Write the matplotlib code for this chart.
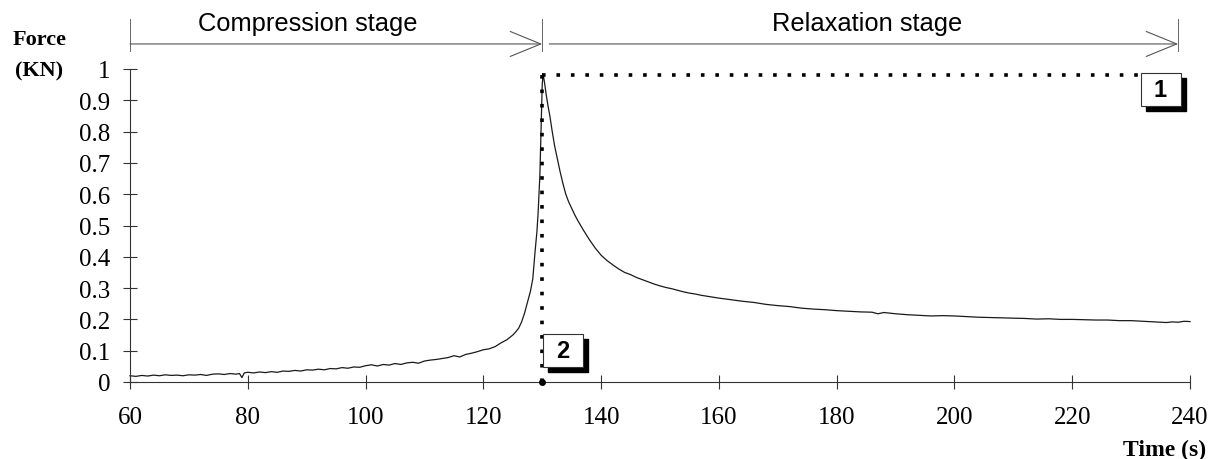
import matplotlib.pyplot as plt
from matplotlib.patches import Rectangle

# force record of the sample (time in s, force in kN)
t_compression = [60, 61, 62, 63, 64, 65, 66, 67, 68, 69, 70, 71, 72, 73, 74, 75, 76, 77, 78,
                 78.6, 79, 79.4, 80, 81, 82, 83, 84, 85, 86, 87, 88, 89, 90, 91, 92, 93, 94,
                 95, 96, 97, 98, 99, 100, 101, 102, 103, 104, 105, 106, 107, 108, 109, 110,
                 111, 112, 113, 114, 115, 116, 117, 118, 119, 120, 121, 122, 123, 124, 125,
                 125.5, 126, 126.5, 127, 127.5, 128, 128.4, 128.8, 129.1, 129.3, 129.6, 129.8,
                 130.0, 130.15]
f_compression = [0.020, 0.018, 0.021, 0.019, 0.022, 0.020, 0.023, 0.021, 0.022, 0.020, 0.023,
                 0.022, 0.024, 0.021, 0.025, 0.026, 0.024, 0.027, 0.025, 0.027, 0.014, 0.029,
                 0.031, 0.029, 0.032, 0.030, 0.033, 0.031, 0.035, 0.034, 0.037, 0.035, 0.039,
                 0.038, 0.041, 0.039, 0.043, 0.042, 0.046, 0.044, 0.048, 0.047, 0.052, 0.055,
                 0.051, 0.056, 0.054, 0.059, 0.056, 0.061, 0.063, 0.060, 0.067, 0.070, 0.072,
                 0.075, 0.078, 0.084, 0.080, 0.088, 0.092, 0.097, 0.103, 0.106, 0.113, 0.125,
                 0.135, 0.150, 0.160, 0.172, 0.192, 0.220, 0.255, 0.290, 0.330, 0.420, 0.480,
                 0.540, 0.660, 0.800, 0.950, 0.985]

t_relaxation = [130.4, 130.7, 131.0, 131.3, 131.7, 132.1, 132.5, 133.0, 133.5, 134, 134.5, 135,
                135.5, 136, 137, 138, 139, 140, 141, 142, 143, 144, 145, 146, 147, 148, 149,
                150, 151, 152, 153, 154, 155, 156, 157, 158, 159, 160, 162, 164, 166, 168, 170,
                172, 174, 176, 178, 180, 182, 184, 186, 187, 188, 190, 192, 194, 196, 198, 200,
                202, 204, 206, 208, 210, 212, 214, 216, 218, 220, 222, 224, 226, 228, 230, 232,
                234, 236, 237, 238, 239, 240]
f_relaxation = [0.955, 0.915, 0.880, 0.850, 0.800, 0.755, 0.720, 0.675, 0.635, 0.600, 0.575,
                0.555, 0.535, 0.517, 0.485, 0.455, 0.428, 0.405, 0.388, 0.374, 0.361, 0.350,
                0.343, 0.334, 0.327, 0.320, 0.313, 0.307, 0.302, 0.298, 0.293, 0.288, 0.284,
                0.281, 0.277, 0.274, 0.271, 0.268, 0.263, 0.258, 0.254, 0.248, 0.244, 0.241,
                0.236, 0.233, 0.231, 0.228, 0.226, 0.224, 0.223, 0.218, 0.222, 0.218, 0.215,
                0.213, 0.211, 0.212, 0.211, 0.209, 0.207, 0.206, 0.205, 0.204, 0.203, 0.201,
                0.202, 0.200, 0.200, 0.199, 0.198, 0.198, 0.196, 0.196, 0.194, 0.192, 0.190,
                0.192, 0.191, 0.194, 0.193]

peak_time = 130
peak_force = 0.98
callout_end = 231.6
stage_bounds = [60, 130, 238]
stage_names = ["Compression stage", "Relaxation stage"]
stage_label_x = [90.2, 185.1]

x_ticks = [60, 80, 100, 120, 140, 160, 180, 200, 220, 240]
y_ticks = [0, 0.1, 0.2, 0.3, 0.4, 0.5, 0.6, 0.7, 0.8, 0.9, 1]

serif = "Liberation Serif"
sans = "Liberation Sans"
W, H = 1208, 460

fig = plt.figure(figsize=(W / 100, H / 100), dpi=100)
ax = fig.add_axes([130 / W, 1 - 383 / H, 1060 / W, 313 / H])
ax.set_xlim(60, 240)
ax.set_ylim(0, 1)

# data units per pixel
sx = 180 / 1060
sy = 1 / 313

ax.plot(t_compression + t_relaxation, f_compression + f_relaxation,
        color="#1a1a1a", lw=0.9, clip_on=False)

# dotted guide lines to the peak
dots = dict(color="k", lw=2.6, ls=(0, (1, 3)), dash_capstyle="butt", clip_on=False)
ax.plot([peak_time, peak_time], [0, peak_force], **dots)
ax.plot([peak_time, callout_end], [peak_force, peak_force], **dots)
ax.plot(peak_time, 0, "o", ms=4, color="k", clip_on=False, zorder=5)

# numbered boxes with shadow
def num_box(x0, y0, label):
    w, h = 40 * sx, 33 * sy
    ax.add_patch(Rectangle((x0 + 5 * sx, y0 - 5 * sy), w, h, facecolor="k",
                           edgecolor="k", clip_on=False, zorder=6))
    ax.add_patch(Rectangle((x0, y0), w, h, facecolor="white", edgecolor="#333",
                           lw=0.8, clip_on=False, zorder=7))
    ax.text(x0 + w / 2, y0 + h / 2, label, ha="center", va="center", fontsize=17,
            fontweight="bold", family=sans, zorder=8)

num_box(callout_end, peak_force + 2 * sy - 33 * sy, "1")
num_box(peak_time + 0.1, 0.047, "2")

# stage arrows
arrow_y = 1.08
for i, name in enumerate(stage_names):
    start = stage_bounds[i] + (1.2 if i else 0)
    ax.annotate("", xy=(stage_bounds[i + 1], arrow_y), xytext=(start, arrow_y),
                arrowprops=dict(arrowstyle="->,head_length=2.2,head_width=0.9",
                                color="#555", lw=0.8, shrinkA=0, shrinkB=0,
                                mutation_scale=10),
                annotation_clip=False)
    ax.text(stage_label_x[i], 1.125, name, ha="center", va="baseline", fontsize=18.4,
            family=sans)
for b in stage_bounds:
    ax.plot([b, b], [1.057, 1.16], color="#666", lw=0.7, clip_on=False)

for s in ["top", "right"]:
    ax.spines[s].set_visible(False)
for s in ["left", "bottom"]:
    ax.spines[s].set_color("#333")
    ax.spines[s].set_linewidth(0.8)

ax.set_xticks(x_ticks)
ax.set_yticks(y_ticks)
ax.set_yticklabels([f"{v:g}" for v in y_ticks])
ax.tick_params(direction="inout", length=10, width=0.8, color="#333", labelsize=18)
ax.tick_params(axis="x", pad=12)
ax.tick_params(axis="y", pad=9)
for lab in ax.get_xticklabels() + ax.get_yticklabels():
    lab.set_family(serif)

fig.text(40 / W, 1 - 40 / H, "Force", ha="center", va="center", fontsize=16,
         fontweight="bold", family=serif)
fig.text(39 / W, 1 - 71 / H, "(KN)", ha="center", va="center", fontsize=16,
         fontweight="bold", family=serif)
fig.text(1206 / W, 1 - 450 / H, "Time (s)", ha="right", va="center", fontsize=17,
         fontweight="bold", family=serif)

fig.savefig("out.png", dpi=100)
